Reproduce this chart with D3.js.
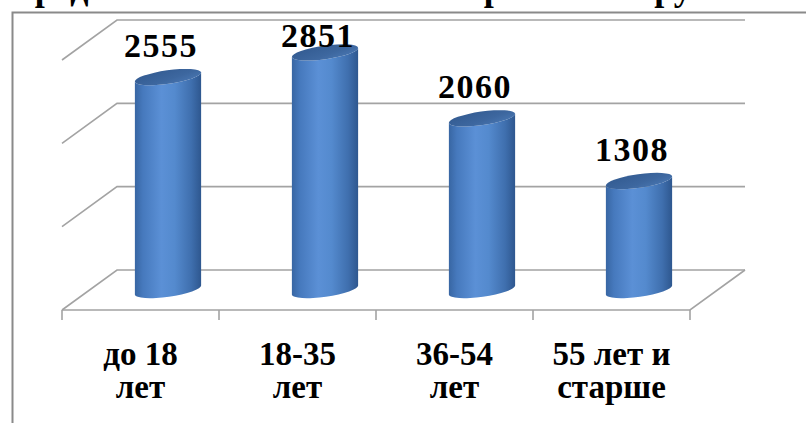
<!DOCTYPE html>
<html>
<head>
<meta charset="utf-8">
<script src="https://cdn.jsdelivr.net/npm/d3@7"></script>
<style>
  html, body { margin: 0; padding: 0; background: #fff; }
  svg { display: block; }
  text { font-family: "Liberation Serif", "Times New Roman", serif; font-weight: bold; fill: #000; }
</style>
</head>
<body>
<svg id="chart" width="806" height="423"></svg>
<script>
// Age groups and counts
const categories = [["до 18", "лет"], ["18-35", "лет"], ["36-54", "лет"], ["55 лет и", "старше"]];
const values = [2555, 2851, 2060, 1308];
const gridTicks = [0, 1000, 2000, 3000];
const titleText = "Распределение населения по возрастным группам";

const svg = d3.select("#chart");
const W = 806, H = 423;

// 3D box: back wall and depth offset toward the viewer
const back = { left: 117, right: 745, top: 20, bottom: 270 };
const depth = { dx: -55, dy: 40 };

const x = d3.scaleBand()
  .domain(d3.range(categories.length))
  .range([back.left, back.right]);

const y = d3.scaleLinear()
  .domain([0, d3.max(gridTicks)])
  .range([back.bottom, back.top]);

// project a point at depth d (0 = back wall, 1 = front edge)
const P = (px, py, d) => [px + depth.dx * d, py + depth.dy * d];

const defs = svg.append("defs");
const bodyGrad = defs.append("linearGradient").attr("id", "cylBody")
  .attr("x1", "0%").attr("x2", "100%").attr("y1", "0%").attr("y2", "0%");
[["0%", "#3866a3"], ["12%", "#4679bd"], ["40%", "#5b90d6"], ["60%", "#548ace"],
 ["85%", "#3f6fae"], ["100%", "#2e578f"]]
  .forEach(([o, c]) => bodyGrad.append("stop").attr("offset", o).attr("stop-color", c));
const topGrad = defs.append("linearGradient").attr("id", "cylTop")
  .attr("x1", "0%").attr("x2", "100%").attr("y1", "0%").attr("y2", "100%");
[["0%", "#325a90"], ["60%", "#3d679f"], ["100%", "#4a78b4"]]
  .forEach(([o, c]) => topGrad.append("stop").attr("offset", o).attr("stop-color", c));

// cut-off heading above the chart frame
svg.append("text")
  .attr("x", -42).attr("y", 0)
  .style("font-size", "36px")
  .text(titleText);

// chart frame
svg.append("path")
  .attr("d", `M12.5,${H + 2} L12.5,12.5 L${W + 2},12.5`)
  .attr("fill", "none").attr("stroke", "#8a8a8a").attr("stroke-width", 2);

const gridColor = "#a3a3a3";
const grid = svg.append("g").attr("fill", "none").attr("stroke", gridColor).attr("stroke-width", 1.6);

// back wall gridlines and left wall diagonals
gridTicks.forEach(t => {
  const yy = y(t);
  const f = P(back.left, yy, 1);
  grid.append("path")
    .attr("d", `M${f[0]},${f[1]} L${back.left},${yy} L${back.right},${yy}`);
});

// floor front edge and right side
const fl = P(back.left, y(0), 1), fr = P(back.right, y(0), 1);
grid.append("path")
  .attr("d", `M${fl[0]},${fl[1]} L${fr[0]},${fr[1]} L${back.right},${y(0)}`);

// category ticks under the front edge
d3.range(categories.length + 1).forEach(i => {
  const bx = back.left + x.step() * i;
  const p = P(bx, y(0), 1);
  grid.append("line")
    .attr("x1", p[0]).attr("x2", p[0])
    .attr("y1", p[1]).attr("y2", p[1] + 10);
});

// cylinders at mid depth
const rx = x.bandwidth() * 0.213, ry = 6.8, rot = -8;
const c = Math.cos(rot * Math.PI / 180), s = Math.sin(rot * Math.PI / 180);
const bars = svg.append("g");
values.forEach((v, i) => {
  const [cx, yTop] = P(x(i) + x.bandwidth() / 2, y(v), 0.5);
  const yBot = P(0, y(0), 0.5)[1];
  const ex = rx * c, ey = rx * s;
  const body = `M${cx - ex},${yTop - ey} L${cx - ex},${yBot - ey}` +
    ` A${rx},${ry} ${rot} 0 0 ${cx + ex},${yBot + ey}` +
    ` L${cx + ex},${yTop + ey}` +
    ` A${rx},${ry} ${rot} 0 1 ${cx - ex},${yTop - ey} Z`;
  bars.append("path").attr("d", body).attr("fill", "url(#cylBody)");
  bars.append("ellipse")
    .attr("cx", 0).attr("cy", 0).attr("rx", rx).attr("ry", ry)
    .attr("transform", `translate(${cx},${yTop}) rotate(${rot})`)
    .attr("fill", "url(#cylTop)");

  // value label above the cylinder, kept inside the chart frame
  const ly = Math.max(yTop - 20, 47);
  svg.append("text")
    .attr("x", cx - 7).attr("y", ly)
    .attr("text-anchor", "middle")
    .style("font-size", "34px").style("letter-spacing", "1.5px")
    .text(v);
});

// category labels centred under the front edge
categories.forEach((lines, i) => {
  const cxF = P(x(i) + x.bandwidth() / 2, 0, 1)[0];
  const t = svg.append("text")
    .attr("text-anchor", "middle")
    .style("font-size", "33px");
  lines.forEach((ln, j) => {
    t.append("tspan").attr("x", cxF).attr("y", 365 + j * 33).text(ln);
  });
});
</script>
</body>
</html>
